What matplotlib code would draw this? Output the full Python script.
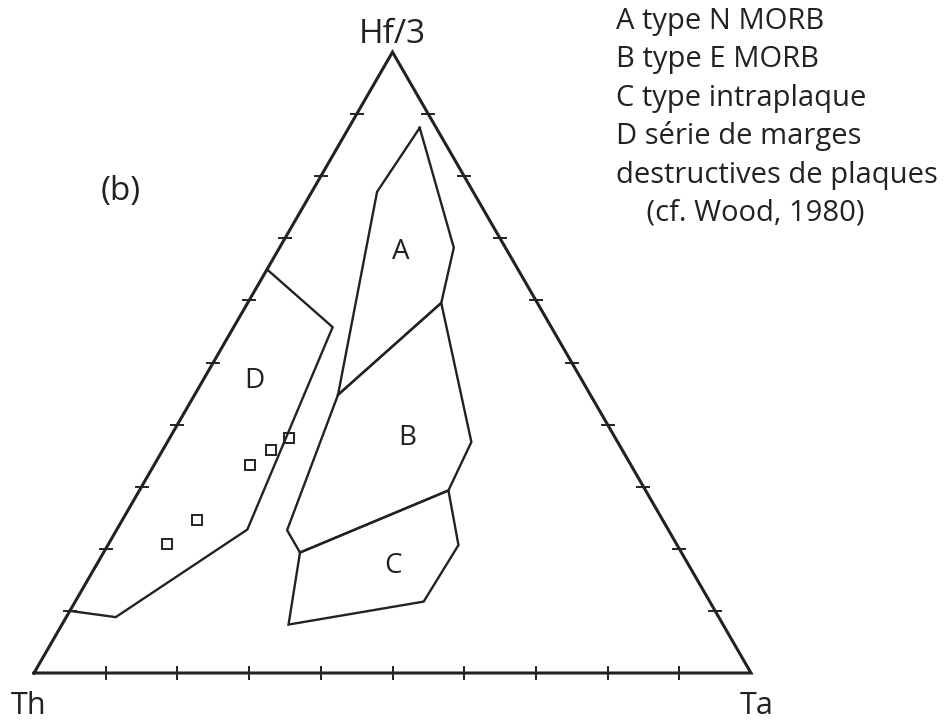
import numpy as np
import matplotlib
matplotlib.use('Agg')
from matplotlib import pyplot as plt

# ternary values in % : (Hf/3, Th, Ta)
field_A = [(87.8, 2.3, 9.9), (68.5, 7.2, 24.3), (59.6, 13.4, 27.0),
           (44.8, 35.2, 20.0), (77.5, 13.4, 9.1)]
field_B = [(44.8, 35.2, 20.0), (59.6, 13.4, 27.0), (37.2, 20.4, 42.4),
           (29.4, 27.5, 43.1), (19.4, 53.2, 27.4), (23.0, 53.2, 23.8)]
field_C = [(19.4, 53.2, 27.4), (29.4, 27.5, 43.1), (20.6, 30.5, 48.9),
           (11.5, 39.9, 48.6), (7.8, 60.6, 31.6)]
field_D = [(65.0, 35.0, 0.0), (55.7, 30.5, 13.8), (23.1, 58.7, 18.2),
           (9.0, 84.1, 6.9), (10.0, 90.0, 0.0)]

# samples (squares)
samp_hf = [37.8, 35.9, 33.5, 24.6, 20.8]
samp_th = [45.6, 49.0, 53.1, 65.0, 71.0]
samp_ta = [16.6, 15.1, 13.4, 10.4, 8.2]

field_names = ['A', 'B', 'C', 'D']
label_pos = [(67.8, 15.0, 17.2), (37.8, 29.1, 33.1), (17.2, 41.4, 41.4), (47.0, 45.7, 7.3)]

legend_lines = ['A type N MORB', 'B type E MORB', 'C type intraplaque',
                'D série de marges', 'destructives de plaques', '    (cf. Wood, 1980)']

col = '#222222'
H = np.sqrt(3) / 2


def xy(hf, th, ta):
    s = hf + th + ta
    hf, ta = hf / s, ta / s
    return ta + hf / 2, hf * H


plt.rcParams['font.family'] = ['Open Sans', 'DejaVu Sans']

fig = plt.figure(figsize=(9.51, 7.26), dpi=100)
ax = fig.add_axes([0, 0, 1, 1])
# pixel layout: side 717 px, Th vertex at (34, 673) from top
S = 717.0
ax.set_xlim(-34 / S, (951 - 34) / S)
ax.set_ylim((673 - 726) / S, 673 / S)
ax.axis('off')

# triangle
tri = np.array([[0, 0], [1, 0], [0.5, H], [0, 0]])
ax.plot(tri[:, 0], tri[:, 1], color=col, lw=2.2, solid_joinstyle='miter')

# ticks
tk = 6 / S
for i in range(1, 10):
    f = i / 10
    ax.plot([f, f], [-tk, tk], color=col, lw=1.4)
    # left edge
    lx, ly = f / 2, f * H
    ax.plot([lx - tk, lx + tk], [ly, ly], color=col, lw=1.4)
    # right edge
    rx, ry = 1 - f / 2, f * H
    ax.plot([rx - tk, rx + tk], [ry, ry], color=col, lw=1.4)

# fields
for fld in [field_A, field_B, field_C, field_D]:
    pts = [xy(*p) for p in fld]
    if fld is not field_D:
        pts.append(pts[0])
    px = [p[0] for p in pts]
    py = [p[1] for p in pts]
    ax.plot(px, py, color=col, lw=1.7, solid_joinstyle='miter')

for name, p in zip(field_names, label_pos):
    x, y = xy(*p)
    ax.text(x, y, name, ha='center', va='center', fontsize=20, color=col)

sx, sy = zip(*[xy(a, b, c) for a, b, c in zip(samp_hf, samp_th, samp_ta)])
ax.plot(sx, sy, 's', ms=7.5, mfc='none', mec=col, mew=1.4)

# axis labels
ax.text(0.5, (673 - 43) / S, 'Hf/3', ha='center', va='baseline', fontsize=24, color=col)
ax.text(-5 / S, (673 - 714) / S, 'Th', ha='center', va='baseline', fontsize=22, color=col)
ax.text(1 + 6 / S, (673 - 714) / S, 'Ta', ha='center', va='baseline', fontsize=22, color=col)
ax.text(87 / S, (673 - 192) / S, '(b)', ha='center', va='center', fontsize=24, color=col)

# legend text
for i, line in enumerate(legend_lines):
    ax.text((616 - 34) / S, (673 - 29 - i * 38.4) / S, line, ha='left', va='baseline',
            fontsize=21, color=col)

fig.savefig('out.png', dpi=100, facecolor='white')
